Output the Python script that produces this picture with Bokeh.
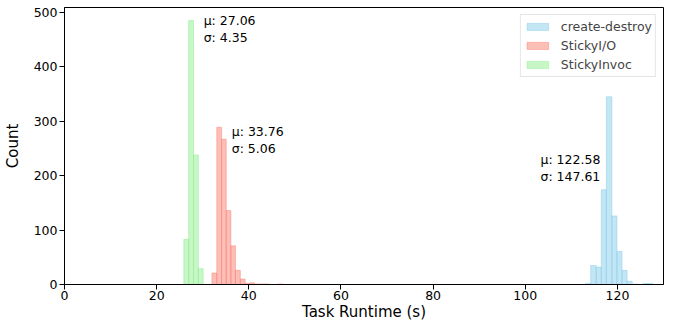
from bokeh.plotting import figure
from bokeh.models import Range1d, FixedTicker, Legend, LegendItem, ColumnDataSource
from bokeh.embed import file_html
from bokeh.resources import INLINE
from bokeh.core.properties import value

# --- data ---
series_names = ["create-destroy", "StickyI/O", "StickyInvoc"]

cd_edges = [113.1, 114.2, 115.4, 116.5, 117.6, 118.8, 119.9, 121.0, 122.1, 123.2, 124.4, 125.5, 126.6, 127.7]
cd_counts = [2, 35, 32, 174, 345, 126, 61, 26, 6, 1, 0, 2, 2]

io_edges = [32.0, 33.05, 34.1, 35.1, 36.1, 37.1, 38.15, 39.2, 40.2, 41.2, 42.2, 43.3, 44.3, 45.3, 46.3, 47.4]
io_counts = [21, 289, 267, 136, 71, 26, 10, 2, 3, 1, 1, 1, 0, 0, 1]

inv_edges = [25.9, 26.95, 28.0, 29.05, 30.1]
inv_counts = [83, 485, 238, 29]

means = [122.58, 33.76, 27.06]
stds = [147.61, 5.06, 4.35]
label_x = [103.3, 36.3, 30.2]
label_y = [244, 295, 498]

x_ticks = [0, 20, 40, 60, 80, 100, 120]
y_ticks = [0, 100, 200, 300, 400, 500]

colors = ["#87CEEB", "#FA8072", "#90EE90"]

FONT = "DejaVu Sans"

p = figure(width=677, height=327, output_backend="svg", toolbar_location=None,
           x_range=Range1d(0, 130), y_range=Range1d(0, 509),
           min_border_left=63, min_border_right=14, min_border_top=7, min_border_bottom=43)

p.xgrid.visible = False
p.ygrid.visible = False
p.outline_line_color = "black"
p.outline_line_width = 1
p.outline_line_alpha = 1
p.background_fill_color = "white"
p.border_fill_color = "white"

renderers = []
for edges, counts, col in [(cd_edges, cd_counts, colors[0]),
                           (io_edges, io_counts, colors[1]),
                           (inv_edges, inv_counts, colors[2])]:
    src = ColumnDataSource(dict(left=edges[:-1], right=edges[1:], top=counts,
                                bottom=[0] * len(counts)))
    r = p.quad(left="left", right="right", top="top", bottom="bottom", source=src,
               fill_color=col, fill_alpha=0.5, line_color=col, line_alpha=0.6, line_width=0.8)
    renderers.append(r)

texts = [f"μ: {m:.2f}\nσ: {s:.2f}" for m, s in zip(means, stds)]
tsrc = ColumnDataSource(dict(x=label_x, y=label_y, t=texts))
p.text(x="x", y="y", text="t", source=tsrc, text_font=value(FONT), text_font_size="12.5px",
       text_align="left", text_baseline="top", text_line_height=1.12, text_color="black")

legend = Legend(items=[LegendItem(label=n, renderers=[r]) for n, r in zip(series_names, renderers)],
                location="top_right")
legend.margin = 7
legend.padding = 3
legend.spacing = 2
legend.label_height = 17
legend.label_width = 10
legend.glyph_height = 9
legend.glyph_width = 27
legend.label_standoff = 10
legend.label_text_font = FONT
legend.label_text_font_size = "12.5px"
legend.border_line_color = "#cccccc"
legend.border_line_width = 1
legend.background_fill_alpha = 0.8
p.add_layout(legend)

for ax in (p.xaxis[0], p.yaxis[0]):
    ax.major_tick_out = 5
    ax.major_tick_in = 0
    ax.minor_tick_out = 0
    ax.minor_tick_in = 0
    ax.major_label_text_font = FONT
    ax.major_label_text_font_size = "12.5px"
    ax.major_label_text_color = "black"
    ax.axis_label_text_font = FONT
    ax.axis_label_text_font_size = "15px"
    ax.axis_label_text_font_style = "normal"
    ax.axis_label_text_color = "black"
    ax.axis_line_color = "black"
    ax.major_tick_line_color = "black"

p.xaxis.ticker = FixedTicker(ticks=x_ticks)
p.yaxis.ticker = FixedTicker(ticks=y_ticks)
p.xaxis.axis_label = "Task Runtime (s)"
p.yaxis.axis_label = "Count"
p.xaxis.major_label_standoff = 1
p.yaxis.major_label_standoff = 2
p.xaxis.axis_label_standoff = 0
p.yaxis.axis_label_standoff = 9

open("out.html", "w").write(file_html(p, INLINE))
